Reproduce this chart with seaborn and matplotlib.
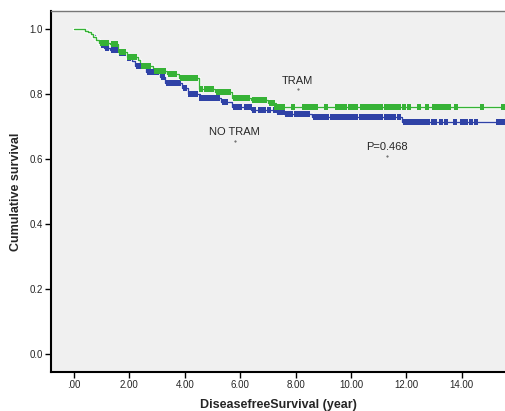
import matplotlib
matplotlib.use("Agg")
import matplotlib.pyplot as plt
import matplotlib.patheffects as pe
import numpy as np
import pandas as pd
import seaborn as sns

# Kaplan-Meier step data (years, cumulative survival)
tram_time = [0.0, 0.4, 0.5, 0.6, 0.7, 0.8, 0.9, 1.3, 1.6, 1.9, 2.3, 2.4, 2.85, 3.35, 3.8,
             4.5, 5.1, 5.7, 6.4, 7.0, 7.3, 15.7]
tram_surv = [1.0, 0.995, 0.99, 0.985, 0.975, 0.965, 0.957, 0.952, 0.93, 0.915, 0.905, 0.885,
             0.87, 0.86, 0.85, 0.815, 0.806, 0.788, 0.78, 0.772, 0.76, 0.76]

notram_time = [0.0, 0.45, 0.55, 0.65, 0.75, 0.85, 0.95, 1.1, 1.3, 1.6, 1.9, 2.1, 2.2, 2.6,
               3.1, 3.3, 3.9, 4.1, 4.55, 5.3, 5.7, 6.4, 7.3, 7.6, 8.6, 11.85, 15.7]
notram_surv = [1.0, 0.995, 0.99, 0.98, 0.97, 0.96, 0.95, 0.942, 0.935, 0.925, 0.91, 0.9,
               0.885, 0.868, 0.852, 0.834, 0.818, 0.8, 0.787, 0.776, 0.76, 0.752, 0.745,
               0.738, 0.729, 0.714, 0.714]

# censored observations (years)
tram_cens = [1.0, 1.1, 1.2, 1.4, 1.5, 1.7, 1.8, 2.0, 2.1, 2.2, 2.5, 2.6, 2.7,
             2.95, 3.05, 3.15, 3.25, 3.45, 3.55, 3.65, 3.9, 4.0, 4.1, 4.2, 4.3, 4.4,
             4.6, 4.75, 4.9, 5.0, 5.2, 5.3, 5.45, 5.6, 5.8, 5.9, 6.0, 6.1, 6.2, 6.3,
             6.5, 6.6, 6.75, 6.9, 7.1, 7.2, 7.3, 7.45, 7.55, 7.9, 8.3, 8.45, 8.6, 8.75,
             9.1, 9.5, 9.65, 9.8, 9.95, 10.05, 10.2, 10.4, 10.5, 10.65, 10.8, 10.95,
             11.1, 11.25, 11.4, 11.55, 11.65, 11.75, 11.9, 12.1, 12.45, 12.75, 13.0,
             13.15, 13.3, 13.45, 13.55, 13.8, 14.75, 15.5]
notram_cens = [1.05, 1.2, 1.4, 1.5, 1.7, 1.8, 2.0, 2.3, 2.4, 2.5, 2.7, 2.8, 2.9,
               3.0, 3.2, 3.4, 3.5, 3.6, 3.7, 3.8, 4.0, 4.2, 4.3, 4.4, 4.6, 4.7, 4.8,
               4.95, 5.1, 5.2, 5.4, 5.5, 5.8, 5.9, 6.0, 6.2, 6.35, 6.5, 6.7,
               6.85, 7.05, 7.25, 7.4, 7.55, 7.7, 7.85, 8.0, 8.15, 8.3, 8.45, 8.7, 8.85,
               9.0, 9.15, 9.3, 9.45, 9.6, 9.75, 9.9, 10.05, 10.2, 10.35, 10.5, 10.65,
               10.8, 10.95, 11.1, 11.25, 11.4, 11.55, 11.75, 11.95, 12.1, 12.25, 12.35,
               12.5, 12.65, 12.8, 12.95, 13.05, 13.25, 13.45, 13.75, 14.0, 14.15, 14.35,
               14.5, 15.3, 15.45, 15.6]

GREEN = "#36b236"
BLUE = "#2f42a6"

sns.set_style("white")
plt.rcParams["font.family"] = ["Liberation Sans", "DejaVu Sans"]

fig = plt.figure(figsize=(5.06, 4.11), dpi=100)
ax = fig.add_axes([51 / 506, 1 - 372 / 411, 1 - 51 / 506, 361 / 411])
ax.set_facecolor("#f0f0f0")


def step_at(times, surv, t):
    idx = np.searchsorted(times, t, side="right") - 1
    return np.asarray(surv)[idx]


curves = pd.concat([
    pd.DataFrame({"time": tram_time, "surv": tram_surv, "group": "TRAM"}),
    pd.DataFrame({"time": notram_time, "surv": notram_surv, "group": "NO TRAM"}),
])
cens = pd.concat([
    pd.DataFrame({"time": tram_cens, "surv": step_at(tram_time, tram_surv, tram_cens), "group": "TRAM"}),
    pd.DataFrame({"time": notram_cens, "surv": step_at(notram_time, notram_surv, notram_cens), "group": "NO TRAM"}),
])
pal = {"TRAM": GREEN, "NO TRAM": BLUE}
halo = [pe.Stroke(linewidth=2.4, foreground="white"), pe.Normal()]
tick_mark = [(-0.75, -1), (0.75, -1), (0.75, 1), (-0.75, 1)]

for grp in ["NO TRAM", "TRAM"]:
    sub = curves[curves.group == grp]
    sns.lineplot(data=sub, x="time", y="surv", color=pal[grp], drawstyle="steps-post",
                 estimator=None, sort=False, linewidth=1.0, ax=ax, legend=False,
                 path_effects=halo)
    csub = cens[cens.group == grp]
    sns.scatterplot(data=csub, x="time", y="surv", color=pal[grp], marker=tick_mark, s=14,
                    linewidth=0, ax=ax, legend=False, zorder=3)

# annotations
ax.text(8.07, 0.84, "TRAM", fontsize=8, ha="center", va="center")
ax.text(5.8, 0.683, "NO TRAM", fontsize=8, ha="center", va="center")
ax.text(11.3, 0.637, "P=0.468", fontsize=8, ha="center", va="center")
for x, y in [(8.1, 0.815), (5.8, 0.655), (11.3, 0.61)]:
    ax.plot(x, y, marker=".", markersize=1, color="#555555")

ax.set_xlim(-0.83, 15.6)
ax.set_ylim(-0.055, 1.055)
ax.set_xticks([0, 2, 4, 6, 8, 10, 12, 14])
ax.set_xticklabels([".00", "2.00", "4.00", "6.00", "8.00", "10.00", "12.00", "14.00"])
ax.set_yticks([0.0, 0.2, 0.4, 0.6, 0.8, 1.0])
ax.set_yticklabels(["0.0", "0.2", "0.4", "0.6", "0.8", "1.0"])
ax.tick_params(axis="both", direction="out", length=4, width=1, labelsize=7, pad=2,
               left=True, bottom=True, color="black")

ax.spines["right"].set_visible(False)
ax.spines["top"].set_color("#777777")
ax.spines["top"].set_linewidth(1.0)
for s in ["left", "bottom"]:
    ax.spines[s].set_color("black")
    ax.spines[s].set_linewidth(1.5)

ax.set_xlabel("DiseasefreeSurvival (year)", fontsize=9, fontweight="bold", labelpad=6)
ax.set_ylabel("Cumulative survival", fontsize=9, fontweight="bold", labelpad=5)

fig.savefig("out.png", dpi=100)
